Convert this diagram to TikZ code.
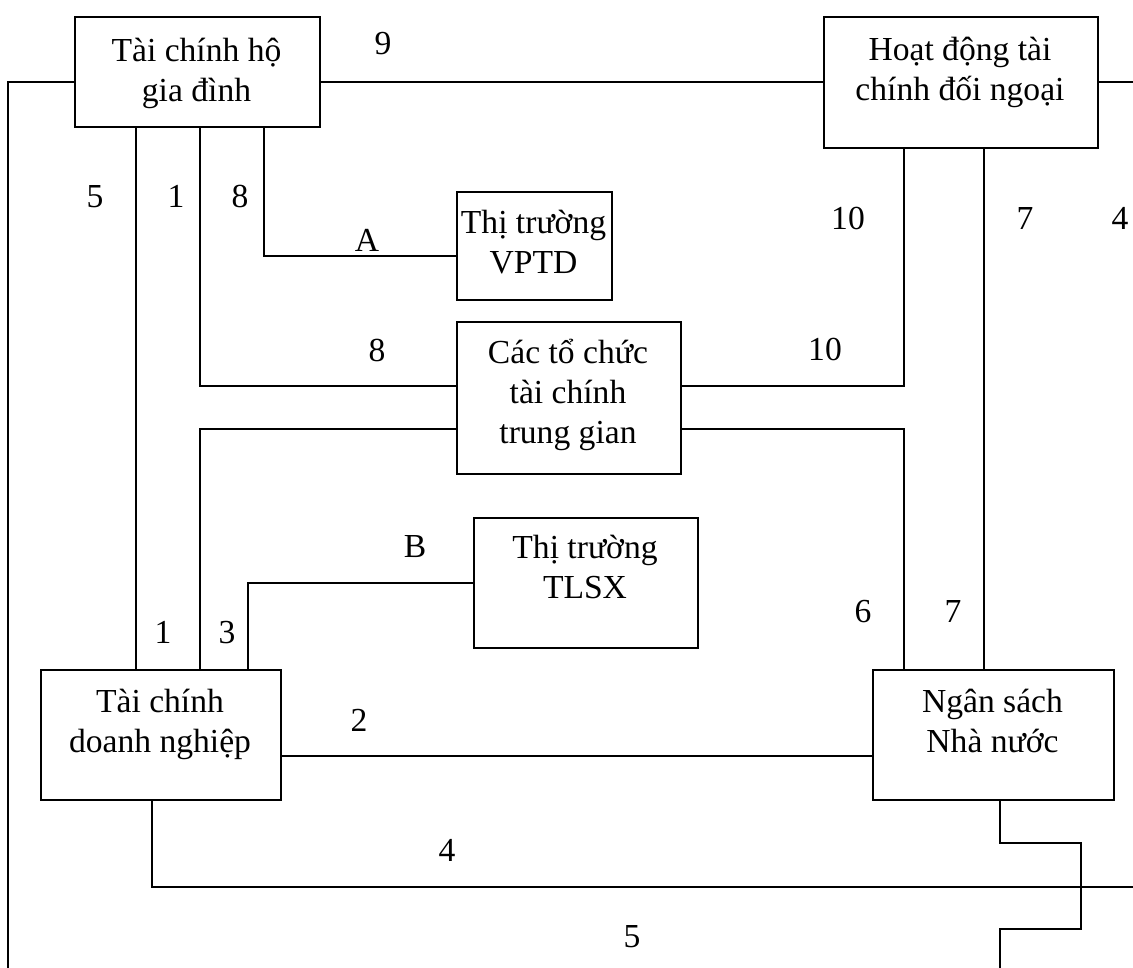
\documentclass[tikz,border=0pt]{standalone}
\usepackage{fontspec}
\setmainfont{Liberation Serif}
\begin{document}
\begin{tikzpicture}[x=1pt,y=-1pt,
  every node/.style={font=\fontsize{33.6}{40}\selectfont},
  box/.style={draw, line width=1.8pt, inner sep=0pt, anchor=north west},
  txt/.style={align=center, inner sep=0pt, anchor=north},
  lab/.style={inner sep=0pt, anchor=base},
  conn/.style={line width=1.8pt}]
\useasboundingbox (0,0) rectangle (1133,968);
% boxes
\node[box, minimum width=245pt, minimum height=110pt] (hh) at (74,16) {};
\node[box, minimum width=274pt, minimum height=131pt] (fa) at (823,16) {};
\node[box, minimum width=155pt, minimum height=108pt] (vptd) at (456,191) {};
\node[box, minimum width=224pt, minimum height=152pt] (ct) at (456,321) {};
\node[box, minimum width=224pt, minimum height=130pt] (tlsx) at (473,517) {};
\node[box, minimum width=240pt, minimum height=130pt] (dn) at (40,669) {};
\node[box, minimum width=241pt, minimum height=130pt] (ns) at (872,669) {};
% box texts (first baseline = anchor + 36)
\node[txt] (thh) at (196.5,25) {\rule{0pt}{36pt}Tài chính hộ\\gia đình};
\node[txt] (tfa) at (960,24) {\rule{0pt}{36pt}Hoạt động tài\\chính đối ngoại};
\node[txt] (tvptd) at (533.5,197) {\rule{0pt}{36pt}Thị trường\\VPTD};
\node[txt] (tct) at (568,327) {\rule{0pt}{36pt}Các tổ chức\\tài chính\\trung gian};
\node[txt] (ttlsx) at (585,522) {\rule{0pt}{36pt}Thị trường\\TLSX};
\node[txt] (tdn) at (160,676) {\rule{0pt}{36pt}Tài chính\\doanh nghiệp};
\node[txt] (tns) at (992.5,676) {\rule{0pt}{36pt}Ngân sách\\Nhà nước};
% helper coordinates
\coordinate (xa) at (8,0);
\coordinate (xb) at (136,0);
\coordinate (xc) at (200,0);
\coordinate (xd) at (264,0);
\coordinate (xe) at (248,0);
\coordinate (xf) at (904,0);
\coordinate (xg) at (984,0);
\coordinate (xh) at (152,0);
\coordinate (xi) at (1000,0);
\coordinate (top) at (0,82);
\coordinate (ya) at (0,256);
\coordinate (yb) at (0,386);
\coordinate (yc) at (0,429);
\coordinate (yd) at (0,756);
\coordinate (ye) at (0,887);
\coordinate (L1) at (8,82);
\coordinate (L2) at (8,968);
\coordinate (R1) at (1133,82);
\coordinate (R4) at (1133,887);
\coordinate (s1) at (1000,843);
\coordinate (s2) at (1081,843);
\coordinate (s3) at (1081,929);
\coordinate (s4) at (1000,929);
\coordinate (s5) at (1000,968);
% connectors
\draw[conn] (hh.west |- top) -- (L1) -- (L2);
\draw[conn] (hh.east |- top) -- (fa.west |- top);
\draw[conn] (fa.east |- top) -- (R1);
\draw[conn] (hh.south -| xb) -- (dn.north -| xb);
\draw[conn] (hh.south -| xc) -- (xc |- yb) -- (ct.west |- yb);
\draw[conn] (hh.south -| xd) -- (xd |- ya) -- (vptd.west |- ya);
\draw[conn] (ct.west |- yc) -- (xc |- yc) -- (dn.north -| xc);
\draw[conn] (dn.north -| xe) -- (xe |- tlsx.west) -- (tlsx.west);
\draw[conn] (ct.east |- yb) -- (xf |- yb) -- (fa.south -| xf);
\draw[conn] (ct.east |- yc) -- (xf |- yc) -- (ns.north -| xf);
\draw[conn] (fa.south -| xg) -- (ns.north -| xg);
\draw[conn] (dn.east |- yd) -- (ns.west |- yd);
\draw[conn] (dn.south -| xh) -- (xh |- ye) -- (R4);
\draw[conn] (ns.south -| xi) -- (s1) -- (s2) -- (s3) -- (s4) -- (s5);
% labels
\node[lab] (l9) at (383,55) {9};
\node[lab] (l5a) at (95,208) {5};
\node[lab] (l1a) at (176,208) {1};
\node[lab] (l8a) at (240,208) {8};
\node[lab] (lA) at (367,252) {A};
\node[lab] (l10a) at (848,230) {10};
\node[lab] (l7a) at (1025,230) {7};
\node[lab] (l4a) at (1120,230) {4};
\node[lab] (l8b) at (377,362) {8};
\node[lab] (l10b) at (825,361) {10};
\node[lab] (lB) at (415,557) {B};
\node[lab] (l1b) at (163,643) {1};
\node[lab] (l3) at (227,643) {3};
\node[lab] (l6) at (863,622) {6};
\node[lab] (l7b) at (953,622) {7};
\node[lab] (l2) at (359,731) {2};
\node[lab] (l4b) at (447,861) {4};
\node[lab] (l5b) at (632,947) {5};
\end{tikzpicture}
\end{document}
